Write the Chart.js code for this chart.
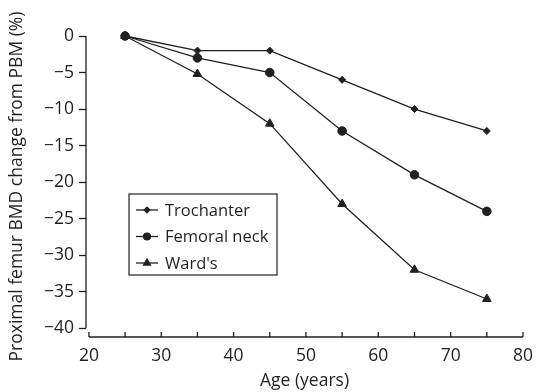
<!DOCTYPE html>
<html>
<head>
<meta charset="utf-8">
<script src="https://cdn.jsdelivr.net/npm/chart.js@4"></script>
<style>
  body { margin: 0; background: #fff; }
</style>
</head>
<body>
<canvas id="bmd" width="536" height="392"></canvas>
<script>
const ages = [25, 35, 45, 55, 65, 75];
const trochanter = [0, -2, -2, -6, -10, -13];
const femoralNeck = [0, -3, -5, -13, -19, -24];
const wards = [0, -5.2, -12, -23, -32, -36];
const xTicks = [20, 25, 30, 35, 40, 45, 50, 55, 60, 65, 70, 75, 80];
const yTicks = [-40, -35, -30, -25, -20, -15, -10, -5, 0];

const ink = '#231f20';
const font = '"Open Sans", "DejaVu Sans", sans-serif';

function points(values) {
  return ages.map((a, i) => ({ x: a, y: values[i] }));
}

function series(label, values, style, radius) {
  return {
    label: label,
    data: points(values),
    borderColor: ink,
    backgroundColor: ink,
    pointBackgroundColor: ink,
    pointBorderColor: ink,
    borderWidth: 1.3,
    pointStyle: style,
    pointRadius: radius,
    pointBorderWidth: 1,
    tension: 0,
    clip: false
  };
}

// axis lines that do not meet at the corner, x ticks pointing inward
const axesPlugin = {
  id: 'axes',
  afterDraw(chart) {
    const { ctx, chartArea } = chart;
    const xs = chart.scales.x, ys = chart.scales.y;
    ctx.save();
    ctx.strokeStyle = ink;
    ctx.lineWidth = 1.3;
    ctx.beginPath();
    ctx.moveTo(chartArea.left, ys.getPixelForValue(0));
    ctx.lineTo(chartArea.left, ys.getPixelForValue(-40));
    const yb = chartArea.bottom;
    ctx.moveTo(xs.getPixelForValue(20), yb);
    ctx.lineTo(xs.getPixelForValue(80), yb);
    xTicks.forEach(v => {
      const px = xs.getPixelForValue(v);
      ctx.moveTo(px, yb);
      ctx.lineTo(px, yb - 5);
    });
    ctx.stroke();
    ctx.restore();
  }
};

// boxed legend inside the plot
const boxLegend = {
  id: 'boxLegend',
  afterDraw(chart, args, opts) {
    const { ctx } = chart;
    const b = opts.box;
    ctx.save();
    ctx.fillStyle = '#fff';
    ctx.fillRect(b.left, b.top, b.width, b.height);
    ctx.strokeStyle = ink;
    ctx.lineWidth = 1.2;
    ctx.strokeRect(b.left, b.top, b.width, b.height);
    chart.data.datasets.forEach((ds, i) => {
      const y = b.top + 16 + i * 26.5;
      const x0 = b.left + 7;
      ctx.strokeStyle = ink;
      ctx.lineWidth = 1.3;
      ctx.beginPath();
      ctx.moveTo(x0, y);
      ctx.lineTo(x0 + 22, y);
      ctx.stroke();
      ctx.fillStyle = ink;
      Chart.helpers.drawPoint(ctx, {
        pointStyle: ds.pointStyle,
        radius: ds.pointRadius * 0.8,
        borderWidth: 1,
        rotation: 0
      }, x0 + 11, y);
      ctx.fillStyle = ink;
      ctx.font = '16.5px ' + font;
      ctx.textBaseline = 'middle';
      ctx.textAlign = 'left';
      ctx.fillText(ds.label, x0 + 29, y + 1);
    });
    ctx.restore();
  }
};

new Chart(document.getElementById('bmd'), {
  type: 'line',
  data: {
    datasets: [
      series('Trochanter', trochanter, 'rectRot', 3.5),
      series('Femoral neck', femoralNeck, 'circle', 4.3),
      series("Ward's", wards, 'triangle', 5)
    ]
  },
  options: {
    responsive: false,
    animation: false,
    layout: { padding: { top: 36, right: 13, bottom: 0, left: 0 } },
    plugins: {
      legend: { display: false },
      tooltip: { enabled: false },
      boxLegend: { box: { left: 129, top: 194, width: 148, height: 81 } }
    },
    scales: {
      x: {
        type: 'linear',
        min: 19.6,
        max: 80,
        afterBuildTicks: s => { s.ticks = xTicks.map(v => ({ value: v })); },
        afterFit: s => { s.height = 55; },
        grid: { display: false },
        border: { display: false },
        ticks: {
          color: ink,
          padding: 1,
          font: { family: font, size: 17.5 },
          maxRotation: 0,
          autoSkip: false,
          callback: v => (v % 10 === 0 ? String(v) : '')
        },
        title: {
          display: true,
          text: 'Age (years)',
          color: ink,
          font: { family: font, size: 17.5 },
          padding: { top: 0, bottom: 0 }
        }
      },
      y: {
        min: -41.2,
        max: 0,
        afterBuildTicks: s => { s.ticks = yTicks.map(v => ({ value: v })); },
        afterFit: s => { s.width = 86; },
        grid: {
          drawOnChartArea: false,
          drawTicks: true,
          tickLength: 7,
          tickColor: ink,
          tickWidth: 1.3
        },
        border: { display: false },
        ticks: {
          color: ink,
          padding: 5,
          font: { family: font, size: 17.5 },
          callback: v => String(v).replace('-', '\u2212')
        },
        title: {
          display: true,
          text: 'Proximal femur BMD change from PBM (%)',
          color: ink,
          font: { family: font, size: 17.5 },
          padding: { top: 7, bottom: 0 }
        }
      }
    }
  },
  plugins: [axesPlugin, boxLegend]
});
</script>
</body>
</html>
